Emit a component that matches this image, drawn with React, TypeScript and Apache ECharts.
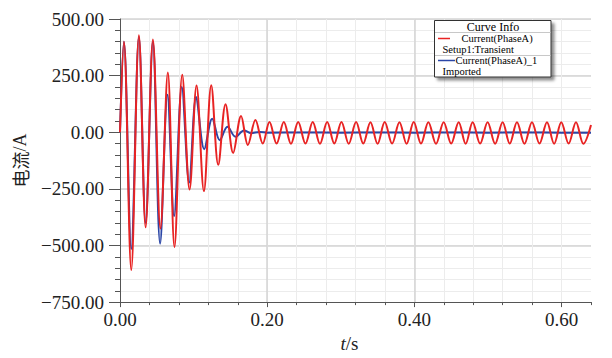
import React, { useEffect, useRef } from 'react';
import * as echarts from 'echarts';

// Red: Current(PhaseA) / Setup1:Transient  (extrema)
const redTimes = [
  0, 0.0053, 0.0153, 0.0257, 0.0348, 0.0447, 0.055, 0.065, 0.074, 0.0846, 0.0945,
  0.104, 0.114, 0.124, 0.1335, 0.1434, 0.1538, 0.1645, 0.1737, 0.184, 0.194,
  0.2031, 0.2128, 0.2226, 0.2323, 0.2421, 0.252, 0.2619, 0.2717, 0.2815, 0.2912,
  0.3009, 0.3108, 0.3208, 0.3305, 0.3403, 0.35, 0.3597, 0.3697, 0.3797, 0.3894,
  0.3991, 0.409, 0.419, 0.4294, 0.4398, 0.45, 0.4602, 0.4697, 0.4792, 0.4893,
  0.4995, 0.5097, 0.5199, 0.5296, 0.5394, 0.5496, 0.5598, 0.57, 0.5802, 0.5899,
  0.5996, 0.6096, 0.6196, 0.6296, 0.64,
];
const redValues = [
  0, 399, -608, 428, -420, 410, -425, 264, -507, 254, -253,
  206, -260, 208, -144, 124, -91, 72, -56, 54, -50,
  45, -50, 45, -51, 45, -50, 45, -51, 45, -50,
  45, -51, 45, -50, 44, -51, 45, -50, 44, -51,
  45, -50, 44, -51, 44, -50, 44, -51, 44, -50,
  44, -51, 44, -50, 44, -51, 44, -50, 44, -51,
  44, -50, 44, -51, 32,
];

// Blue: Current(PhaseA)_1 / Imported
const blueTimes = [
  0, 0.0053, 0.0153, 0.0257, 0.0348, 0.0447, 0.0545, 0.0645, 0.0735, 0.084, 0.094,
  0.1035, 0.1145, 0.1253, 0.1355, 0.146, 0.157, 0.1685, 0.178, 0.19, 0.2,
  0.25, 0.3, 0.35, 0.4, 0.45, 0.5, 0.55, 0.6, 0.64,
];
const blueValues = [
  0, 400, -515, 420, -400, 400, -492, 165, -370, 200, -222,
  156, -75, 60, -35, 24, -20, 8, -4, 1, -2,
  -1, -2, -1, -2, -1, -2, -1, -2, -2,
];

const xMajorTicks = [0, 0.2, 0.4, 0.6];
const yMajorTicks = [-750, -500, -250, 0, 250, 500];

const legendTitle = 'Curve Info';
const legendNames = ['Current(PhaseA)', 'Current(PhaseA)_1'];
const legendSources = ['Setup1:Transient', 'Imported'];
const seriesColors = ['#e82323', '#2b46a6'];

const SERIF = '"Liberation Serif", "DejaVu Serif", serif';

function pairs(ts: number[], vs: number[]) {
  return ts.map((t, i) => [t, vs[i]]);
}

function isMultiple(v: number, step: number) {
  const r = v / step;
  return Math.abs(r - Math.round(r)) < 1e-6;
}

function legendText(text: string, x: number, y: number, align: string, size: number) {
  return {
    type: 'text', z: 102, x, y,
    style: { text, fontFamily: SERIF, fontSize: size, fill: '#000', align, verticalAlign: 'middle' },
  };
}

export default function App() {
  const ref = useRef<HTMLDivElement>(null);
  useEffect(() => {
    const chart = echarts.init(ref.current!, null, { renderer: 'svg' });
    const axisColor = '#555';
    const labelStyle = { fontFamily: SERIF, fontSize: 19, color: '#222' };
    const option: any = {
      animation: false,
      backgroundColor: '#fff',
      grid: { left: 120, right: 21, top: 19, bottom: 52.5, containLabel: false },
      xAxis: [
        {
          type: 'value', min: 0, max: 0.64, interval: 0.04, position: 'bottom',
          axisLine: { show: true, onZero: false, lineStyle: { color: axisColor, width: 1 } },
          axisTick: { show: true, length: 3, lineStyle: { color: axisColor } },
          axisLabel: {
            ...labelStyle, margin: 8,
            formatter: (v: number) => (xMajorTicks.some((m) => Math.abs(m - v) < 1e-6) ? v.toFixed(2) : ''),
          },
          splitLine: { show: true, showMinLine: false, showMaxLine: false, lineStyle: { color: '#ececec', width: 1 } },
          name: '{i|t}/s', nameLocation: 'middle', nameGap: 30,
          nameTextStyle: {
            fontFamily: SERIF, fontSize: 19, color: '#222', padding: [0, 12, 0, 0],
            rich: { i: { fontFamily: SERIF, fontSize: 19, fontStyle: 'italic', color: '#222' } },
          },
        },
        {
          type: 'value', min: 0, max: 0.64, interval: 0.2, position: 'bottom',
          axisLine: { show: false, onZero: false },
          axisLabel: { show: false },
          axisTick: { show: true, length: 5, customValues: xMajorTicks, lineStyle: { color: axisColor } },
          splitLine: { show: true, showMinLine: false, showMaxLine: false, lineStyle: { color: '#d4d4d4', width: 1.5 } },
        },
      ],
      yAxis: [
        {
          type: 'value', min: -750, max: 500, interval: 50, position: 'left',
          axisLine: { show: true, onZero: false, lineStyle: { color: axisColor, width: 1 } },
          axisTick: { show: true, length: 5, lineStyle: { color: axisColor } },
          axisLabel: {
            ...labelStyle, margin: 16,
            formatter: (v: number) =>
              isMultiple(v, 250) ? (v < 0 ? '\u2212' + Math.abs(v).toFixed(2) : v.toFixed(2)) : '',
          },
          splitLine: { show: true, showMinLine: false, lineStyle: { color: '#ececec', width: 1 } },
          name: '{cn|电流}/A', nameLocation: 'middle', nameGap: 91,
          nameTextStyle: {
            fontFamily: SERIF, fontSize: 18, color: '#222',
            rich: { cn: { fontFamily: '"Noto Sans CJK SC"', fontSize: 18, color: '#222' } },
          },
        },
        {
          type: 'value', min: -750, max: 500, interval: 250, position: 'left',
          axisLine: { show: false, onZero: false },
          axisLabel: { show: false },
          axisTick: { show: true, length: 11, customValues: yMajorTicks, lineStyle: { color: axisColor } },
          splitLine: { show: true, showMinLine: false, lineStyle: { color: '#d4d4d4', width: 1.5 } },
        },
      ],
      series: [
        {
          name: legendNames[1], type: 'line', xAxisIndex: 0, yAxisIndex: 0,
          data: pairs(blueTimes, blueValues), smooth: 0.35, symbol: 'none',
          lineStyle: { color: seriesColors[1], width: 2 }, z: 3,
        },
        {
          name: legendNames[0], type: 'line', xAxisIndex: 0, yAxisIndex: 0,
          data: pairs(redTimes, redValues), smooth: 0.35, symbol: 'none',
          lineStyle: { color: seriesColors[0], width: 2 }, z: 4,
        },
      ],
      graphic: [
        {
          type: 'rect', z: 100,
          shape: { x: 434.5, y: 20.5, width: 116.5, height: 56.5 },
          style: {
            fill: '#fff', stroke: '#333', lineWidth: 1,
            shadowBlur: 3, shadowOffsetX: 3, shadowOffsetY: 3, shadowColor: 'rgba(0,0,0,0.45)',
          },
        },
        { type: 'line', z: 101, shape: { x1: 435, y1: 32.5, x2: 550.5, y2: 32.5 }, style: { stroke: '#c8c8c8', lineWidth: 1 } },
        { type: 'line', z: 101, shape: { x1: 435, y1: 55.5, x2: 550.5, y2: 55.5 }, style: { stroke: '#c8c8c8', lineWidth: 1 } },
        legendText(legendTitle, 493, 26.5, 'center', 12),
        { type: 'line', z: 102, shape: { x1: 438, y1: 38.5, x2: 450, y2: 38.5 }, style: { stroke: seriesColors[0], lineWidth: 1.5 } },
        legendText(legendNames[0], 461.5, 38, 'left', 10.5),
        legendText(legendSources[0], 442.5, 49, 'left', 10.5),
        { type: 'line', z: 102, shape: { x1: 438, y1: 60.5, x2: 455, y2: 60.5 }, style: { stroke: seriesColors[1], lineWidth: 1.5 } },
        legendText(legendNames[1], 455.5, 60, 'left', 10.5),
        legendText(legendSources[1], 442.5, 71, 'left', 10.5),
      ],
    };
    chart.setOption(option);
    return () => chart.dispose();
  }, []);
  return (
    <div
      ref={ref}
      style={{ position: 'fixed', left: 0, top: 0, width: 612, height: 358, background: '#fff' }}
    />
  );
}
